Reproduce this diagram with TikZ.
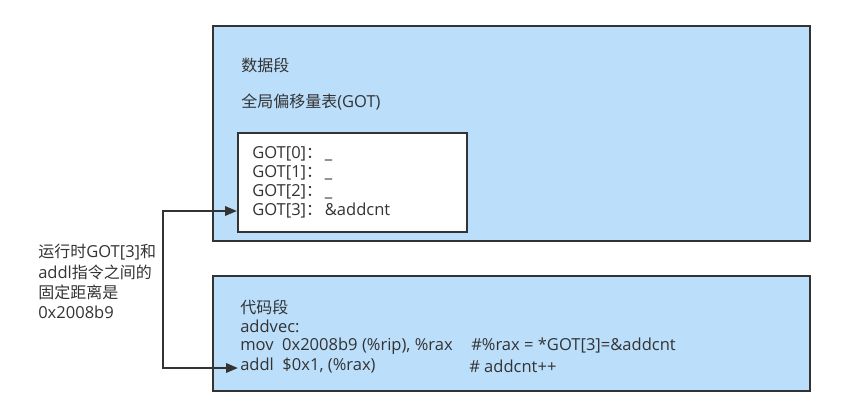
\documentclass[tikz,border=0pt]{standalone}
\usepackage{fontspec}
\setmainfont{Open Sans}
\newfontfamily\cjkfont{Noto Sans CJK SC}
\newcommand\zh[1]{{\fontsize{12pt}{15pt}\cjkfont #1}}
\usetikzlibrary{arrows.meta}
\definecolor{boxblue}{HTML}{BBDEFA}
\definecolor{edge}{HTML}{333333}
\begin{document}
\begin{tikzpicture}[x=0.75pt,y=-0.75pt,
  seg/.style={draw=edge,line width=1.7pt,fill=boxblue},
  gotbox/.style={draw=edge,line width=1.7pt,fill=white},
  txt/.style={anchor=west,inner sep=0pt,font=\fontsize{12.4pt}{15pt}\selectfont,text=black!80},
  link/.style={draw=edge,line width=1.7pt,{Triangle[length=9pt,width=7pt]}-{Triangle[length=9pt,width=7pt]}}]
\useasboundingbox (0,0) rectangle (843,408);
\draw[seg] (213,26) rectangle (810,241);
\draw[seg] (213,276) rectangle (810,391);
\draw[gotbox] (238,133) rectangle (467,232);
\node[coordinate] (gotin) at (237,211) {};
\node[coordinate] (addin) at (238,368) {};
\node[txt] (data) at (241,65) {\zh{数据段}};
\node[txt] (gottitle) at (241,102) {\zh{全局偏移量表}(GOT)};
\node[txt] (g0) at (252,154) {GOT[0]\zh{：}\,\_};
\node[txt] (g1) at (252,173) {GOT[1]\zh{：}\,\_};
\node[txt] (g2) at (252,192) {GOT[2]\zh{：}\,\_};
\node[txt] (g3) at (252,211) {GOT[3]\zh{：}\,\&addcnt};
\node[txt] (code) at (240,307) {\zh{代码段}};
\node[txt] (addvec) at (240,326) {addvec:};
\node[txt] (mov) at (240,346) {mov\ \ 0x2008b9 (\%rip), \%rax};
\node[txt] (movc) at (471,346) {\#\%rax = *GOT[3]=\&addcnt};
\node[txt] (addl) at (240,366) {addl\ \ \$0x1, (\%rax)};
\node[txt] (addlc) at (469,366) {\# addcnt++};
\node[txt] (l1) at (38,252) {\zh{运行时}GOT[3]\zh{和}};
\node[txt] (l2) at (38,272) {addl\zh{指令之间的}};
\node[txt] (l3) at (38,292) {\zh{固定距离是}};
\node[txt] (l4) at (38,312) {0x2008b9};
\draw[link] (gotin) -- (163,211) -- (163,368) -- (addin);
\end{tikzpicture}
\end{document}
